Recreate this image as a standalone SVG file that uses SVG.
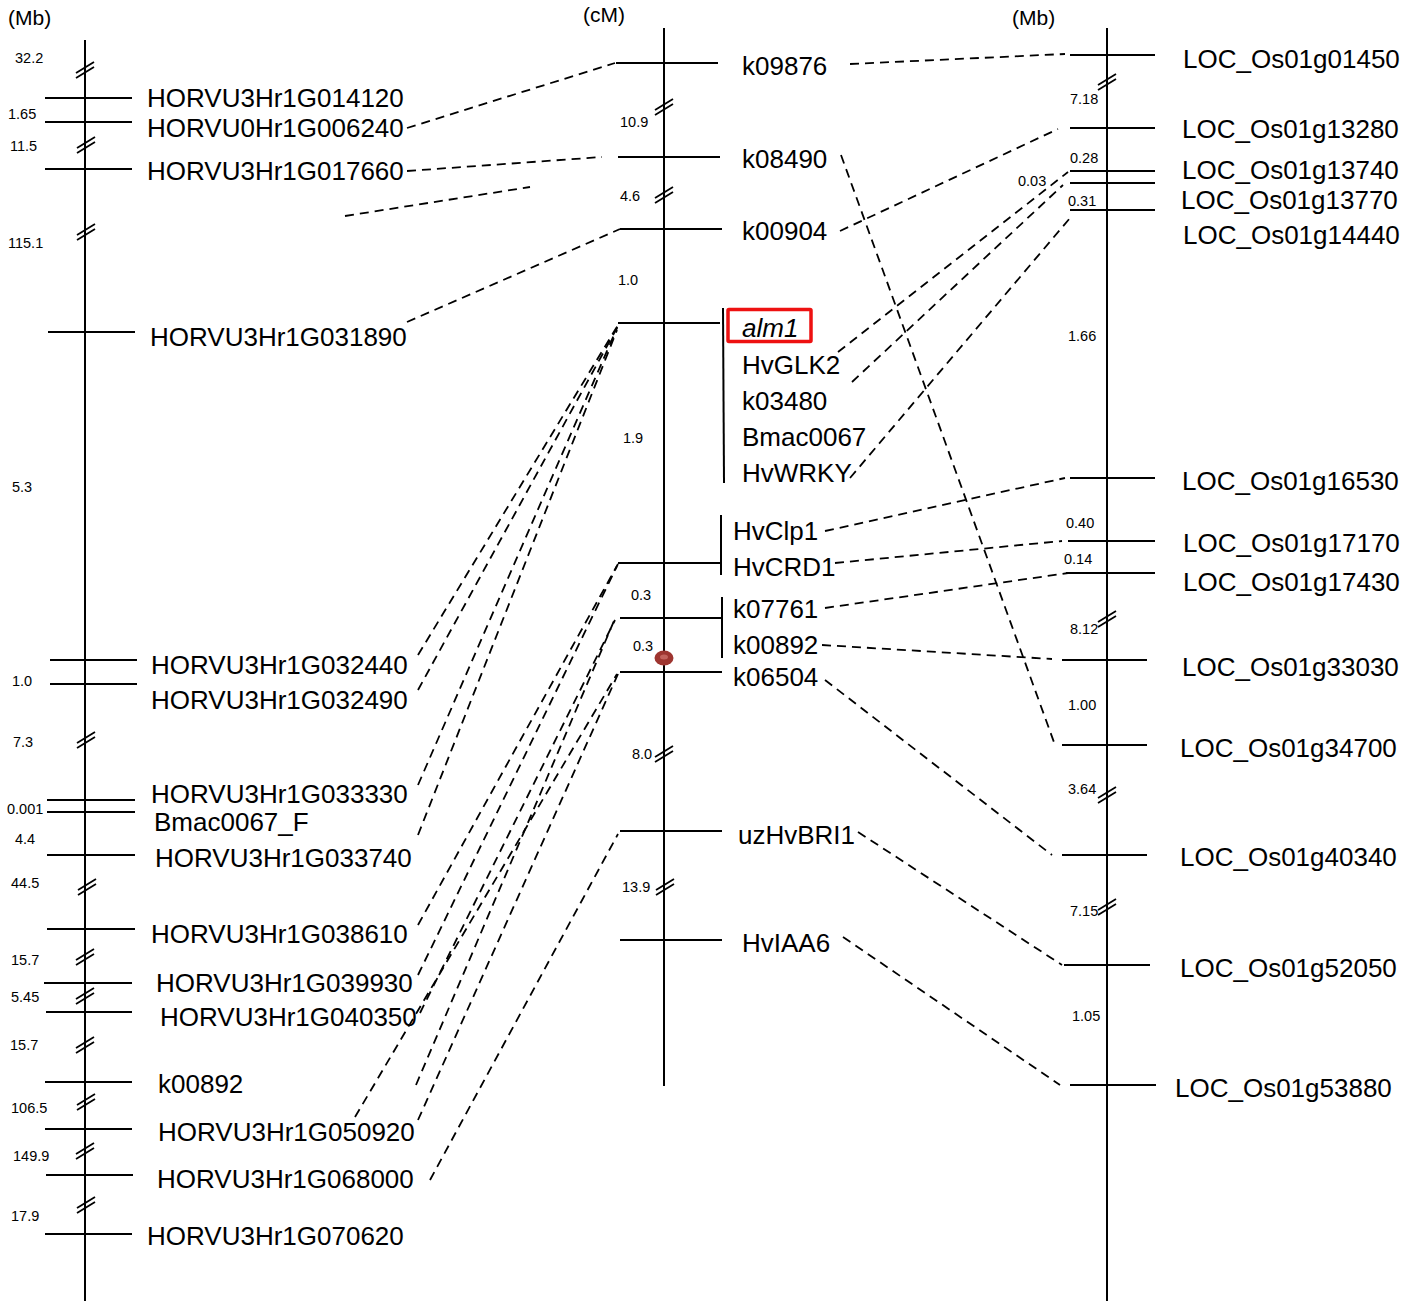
<svg xmlns="http://www.w3.org/2000/svg" xmlns:xlink="http://www.w3.org/1999/xlink" width="1409" height="1301" viewBox="0 0 1409 1301">
<style>
.ax{stroke:#000;stroke-width:2;fill:none}
.tk{stroke:#000;stroke-width:2}
.br{stroke:#000;stroke-width:1.8;fill:none}
.lb{font-family:"Liberation Sans",Arial,sans-serif;font-size:26px;fill:#000}
.nm{font-family:"Liberation Sans",Arial,sans-serif;font-size:14.5px;fill:#000}
.un{font-family:"Liberation Sans",Arial,sans-serif;font-size:21px;fill:#000}
.cn{stroke:#000;stroke-width:1.8;stroke-dasharray:9 6;fill:none}
</style>
<defs>
<path id="brk" class="br" d="M-9,5 L9,-6 M-9,10 L9,-1"/>
</defs>
<rect width="1409" height="1301" fill="#fff"/>
<text class="un" x="8" y="25">(Mb)</text>
<text class="un" x="583" y="22">(cM)</text>
<text class="un" x="1012" y="25">(Mb)</text>

<g id="left-axis">
<line class="ax" x1="85" y1="40" x2="85" y2="1301"/>
<line class="tk" x1="45" y1="98" x2="132" y2="98"/>
<line class="tk" x1="45" y1="122" x2="132" y2="122"/>
<line class="tk" x1="45" y1="169" x2="132" y2="169"/>
<line class="tk" x1="48" y1="332" x2="135" y2="332"/>
<line class="tk" x1="50" y1="660" x2="137" y2="660"/>
<line class="tk" x1="50" y1="684" x2="137" y2="684"/>
<line class="tk" x1="47" y1="800" x2="135" y2="800"/>
<line class="tk" x1="47" y1="812" x2="135" y2="812"/>
<line class="tk" x1="47" y1="855" x2="135" y2="855"/>
<line class="tk" x1="47" y1="929" x2="135" y2="929"/>
<line class="tk" x1="44" y1="983" x2="132" y2="983"/>
<line class="tk" x1="46" y1="1012" x2="132" y2="1012"/>
<line class="tk" x1="45" y1="1082" x2="132" y2="1082"/>
<line class="tk" x1="45" y1="1129" x2="132" y2="1129"/>
<line class="tk" x1="46" y1="1175" x2="133" y2="1175"/>
<line class="tk" x1="45" y1="1234" x2="132" y2="1234"/>
<use xlink:href="#brk" x="85" y="68"/>
<use xlink:href="#brk" x="86" y="143"/>
<use xlink:href="#brk" x="86" y="230"/>
<use xlink:href="#brk" x="86" y="738"/>
<use xlink:href="#brk" x="87" y="885"/>
<use xlink:href="#brk" x="85" y="955"/>
<use xlink:href="#brk" x="85" y="994"/>
<use xlink:href="#brk" x="85" y="1043"/>
<use xlink:href="#brk" x="86" y="1100"/>
<use xlink:href="#brk" x="85" y="1149"/>
<use xlink:href="#brk" x="86" y="1203"/>
<text class="nm" x="15" y="63">32.2</text>
<text class="nm" x="8" y="119">1.65</text>
<text class="nm" x="10" y="151">11.5</text>
<text class="nm" x="8" y="248">115.1</text>
<text class="nm" x="12" y="492">5.3</text>
<text class="nm" x="12" y="686">1.0</text>
<text class="nm" x="13" y="747">7.3</text>
<text class="nm" x="7" y="814">0.001</text>
<text class="nm" x="15" y="844">4.4</text>
<text class="nm" x="11" y="888">44.5</text>
<text class="nm" x="11" y="965">15.7</text>
<text class="nm" x="11" y="1002">5.45</text>
<text class="nm" x="10" y="1050">15.7</text>
<text class="nm" x="11" y="1113">106.5</text>
<text class="nm" x="13" y="1161">149.9</text>
<text class="nm" x="11" y="1221">17.9</text>
</g>
<g id="left-labels">
<text class="lb" x="147" y="107">HORVU3Hr1G014120</text>
<text class="lb" x="147" y="137">HORVU0Hr1G006240</text>
<text class="lb" x="147" y="180">HORVU3Hr1G017660</text>
<text class="lb" x="150" y="346">HORVU3Hr1G031890</text>
<text class="lb" x="151" y="674">HORVU3Hr1G032440</text>
<text class="lb" x="151" y="709">HORVU3Hr1G032490</text>
<text class="lb" x="151" y="803">HORVU3Hr1G033330</text>
<text class="lb" x="154" y="831">Bmac0067_F</text>
<text class="lb" x="155" y="867">HORVU3Hr1G033740</text>
<text class="lb" x="151" y="943">HORVU3Hr1G038610</text>
<text class="lb" x="156" y="992">HORVU3Hr1G039930</text>
<text class="lb" x="160" y="1026">HORVU3Hr1G040350</text>
<text class="lb" x="158" y="1093">k00892</text>
<text class="lb" x="158" y="1141">HORVU3Hr1G050920</text>
<text class="lb" x="157" y="1188">HORVU3Hr1G068000</text>
<text class="lb" x="147" y="1245">HORVU3Hr1G070620</text>
</g>

<g id="middle-axis">
<line class="ax" x1="664" y1="28" x2="664" y2="1086"/>
<line class="tk" x1="616" y1="63" x2="718" y2="63"/>
<line class="tk" x1="618" y1="157" x2="720" y2="157"/>
<line class="tk" x1="620" y1="229" x2="722" y2="229"/>
<line class="tk" x1="618" y1="323" x2="720" y2="323"/>
<line class="tk" x1="618" y1="563" x2="721" y2="563"/>
<line class="tk" x1="620" y1="618" x2="722" y2="618"/>
<line class="tk" x1="620" y1="672" x2="722" y2="672"/>
<line class="tk" x1="620" y1="831" x2="722" y2="831"/>
<line class="tk" x1="620" y1="940" x2="722" y2="940"/>
<line class="tk" x1="723" y1="308" x2="724" y2="483"/>
<line class="tk" x1="721" y1="515" x2="721" y2="575"/>
<line class="tk" x1="722" y1="597" x2="722" y2="658"/>
<use xlink:href="#brk" x="664" y="105"/>
<use xlink:href="#brk" x="664" y="193"/>
<use xlink:href="#brk" x="664" y="752"/>
<use xlink:href="#brk" x="665" y="885"/>
<ellipse cx="664" cy="658" rx="9.5" ry="7.5" fill="#9e3530"/>
<ellipse cx="664" cy="657" rx="4" ry="2.5" fill="#c2625c"/>
<text class="nm" x="620" y="127">10.9</text>
<text class="nm" x="620" y="201">4.6</text>
<text class="nm" x="618" y="285">1.0</text>
<text class="nm" x="623" y="443">1.9</text>
<text class="nm" x="631" y="600">0.3</text>
<text class="nm" x="633" y="651">0.3</text>
<text class="nm" x="632" y="759">8.0</text>
<text class="nm" x="622" y="892">13.9</text>
</g>
<g id="middle-labels">
<text class="lb" x="742" y="75">k09876</text>
<text class="lb" x="742" y="168">k08490</text>
<text class="lb" x="742" y="240">k00904</text>
<rect x="728" y="309.5" width="83" height="32" fill="none" stroke="#ee1111" stroke-width="3.5" rx="1"/>
<text class="lb" x="742" y="337" font-style="italic">alm1</text>
<text class="lb" x="742" y="374">HvGLK2</text>
<text class="lb" x="742" y="410">k03480</text>
<text class="lb" x="742" y="446">Bmac0067</text>
<text class="lb" x="742" y="482">HvWRKY</text>
<text class="lb" x="733" y="540">HvClp1</text>
<text class="lb" x="733" y="576">HvCRD1</text>
<text class="lb" x="733" y="618">k07761</text>
<text class="lb" x="733" y="654">k00892</text>
<text class="lb" x="733" y="686">k06504</text>
<text class="lb" x="738" y="844">uzHvBRI1</text>
<text class="lb" x="742" y="952">HvIAA6</text>
</g>

<g id="right-axis">
<line class="ax" x1="1107" y1="28" x2="1107" y2="1301"/>
<line class="tk" x1="1070" y1="55" x2="1155" y2="55"/>
<line class="tk" x1="1070" y1="128" x2="1155" y2="128"/>
<line class="tk" x1="1070" y1="171" x2="1155" y2="171"/>
<line class="tk" x1="1070" y1="183" x2="1155" y2="183"/>
<line class="tk" x1="1070" y1="210" x2="1155" y2="210"/>
<line class="tk" x1="1070" y1="478" x2="1155" y2="478"/>
<line class="tk" x1="1068" y1="541" x2="1155" y2="541"/>
<line class="tk" x1="1066" y1="573" x2="1155" y2="573"/>
<line class="tk" x1="1062" y1="660" x2="1147" y2="660"/>
<line class="tk" x1="1062" y1="745" x2="1147" y2="745"/>
<line class="tk" x1="1062" y1="855" x2="1147" y2="855"/>
<line class="tk" x1="1064" y1="965" x2="1150" y2="965"/>
<line class="tk" x1="1070" y1="1085" x2="1156" y2="1085"/>
<use xlink:href="#brk" x="1107" y="80"/>
<use xlink:href="#brk" x="1107" y="617"/>
<use xlink:href="#brk" x="1107" y="793"/>
<use xlink:href="#brk" x="1107" y="905"/>
<text class="nm" x="1070" y="104">7.18</text>
<text class="nm" x="1070" y="163">0.28</text>
<text class="nm" x="1018" y="186">0.03</text>
<text class="nm" x="1068" y="206">0.31</text>
<text class="nm" x="1068" y="341">1.66</text>
<text class="nm" x="1066" y="528">0.40</text>
<text class="nm" x="1064" y="564">0.14</text>
<text class="nm" x="1070" y="634">8.12</text>
<text class="nm" x="1068" y="710">1.00</text>
<text class="nm" x="1068" y="794">3.64</text>
<text class="nm" x="1070" y="916">7.15</text>
<text class="nm" x="1072" y="1021">1.05</text>
</g>
<g id="right-labels">
<text class="lb" x="1183" y="68">LOC_Os01g01450</text>
<text class="lb" x="1182" y="138">LOC_Os01g13280</text>
<text class="lb" x="1182" y="179">LOC_Os01g13740</text>
<text class="lb" x="1181" y="209">LOC_Os01g13770</text>
<text class="lb" x="1183" y="244">LOC_Os01g14440</text>
<text class="lb" x="1182" y="490">LOC_Os01g16530</text>
<text class="lb" x="1183" y="552">LOC_Os01g17170</text>
<text class="lb" x="1183" y="591">LOC_Os01g17430</text>
<text class="lb" x="1182" y="676">LOC_Os01g33030</text>
<text class="lb" x="1180" y="757">LOC_Os01g34700</text>
<text class="lb" x="1180" y="866">LOC_Os01g40340</text>
<text class="lb" x="1180" y="977">LOC_Os01g52050</text>
<text class="lb" x="1175" y="1097">LOC_Os01g53880</text>
</g>

<g id="connectors">
<line class="cn" x1="407" y1="128" x2="615" y2="63"/>
<line class="cn" x1="407" y1="171" x2="602" y2="157"/>
<line class="cn" x1="345" y1="216" x2="530" y2="187"/>
<line class="cn" x1="407" y1="322" x2="620" y2="229"/>
<line class="cn" x1="418" y1="655" x2="618" y2="325"/>
<line class="cn" x1="418" y1="690" x2="618" y2="326"/>
<line class="cn" x1="418" y1="785" x2="617" y2="328"/>
<line class="cn" x1="418" y1="835" x2="617" y2="330"/>
<line class="cn" x1="418" y1="925" x2="618" y2="564"/>
<line class="cn" x1="418" y1="975" x2="617" y2="566"/>
<line class="cn" x1="420" y1="1013" x2="615" y2="620"/>
<line class="cn" x1="416" y1="1085" x2="614" y2="621"/>
<line class="cn" x1="355" y1="1117" x2="617" y2="674"/>
<line class="cn" x1="418" y1="1120" x2="618" y2="674"/>
<line class="cn" x1="430" y1="1180" x2="618" y2="834"/>
<line class="cn" x1="850" y1="64" x2="1065" y2="54"/>
<line class="cn" x1="841" y1="155" x2="1055" y2="745"/>
<line class="cn" x1="840" y1="231" x2="1058" y2="129"/>
<line class="cn" x1="838" y1="352" x2="1068" y2="172"/>
<line class="cn" x1="852" y1="382" x2="1063" y2="185"/>
<line class="cn" x1="850" y1="478" x2="1070" y2="218"/>
<line class="cn" x1="825" y1="531" x2="1065" y2="478"/>
<line class="cn" x1="835" y1="563" x2="1062" y2="541"/>
<line class="cn" x1="825" y1="608" x2="1068" y2="573"/>
<line class="cn" x1="822" y1="645" x2="1052" y2="659"/>
<line class="cn" x1="825" y1="680" x2="1052" y2="855"/>
<line class="cn" x1="858" y1="832" x2="1062" y2="965"/>
<line class="cn" x1="843" y1="937" x2="1060" y2="1085"/>
</g>
</svg>
